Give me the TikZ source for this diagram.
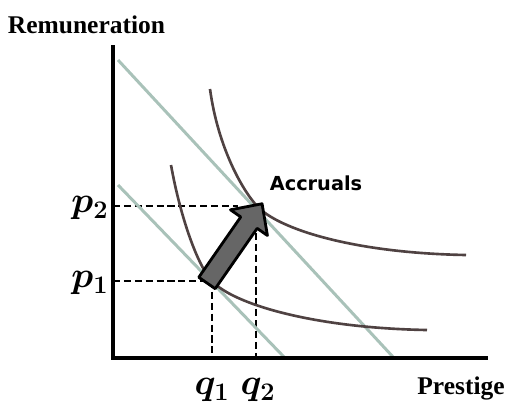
\documentclass[tikz,border=0pt]{standalone}
\usepackage{fontspec}
\newfontfamily\axisfont{Liberation Serif}
\newfontfamily\notefont{DejaVu Sans}
\definecolor{budgetgreen}{HTML}{A9C2B9}
\definecolor{curvebrown}{HTML}{4F4242}
\definecolor{arrowgray}{HTML}{666666}

\begin{document}
\begin{tikzpicture}[
    budget/.style={draw=budgetgreen, line width=1.7pt},
    indiff/.style={draw=curvebrown, line width=1.5pt},
    guide/.style={line width=1.2pt, dash pattern=on 4pt off 2.2pt},
    axislabel/.style={font=\axisfont\bfseries\fontsize{14.5}{17}\selectfont},
    pqlabel/.style={font=\fontsize{21}{24}\selectfont\boldmath}
]
    % Keep the margins of the picture
    \useasboundingbox (-2.26,-0.94) rectangle (7.94,7.16);

    % The two points of tangency
    \coordinate (A) at (1.98,1.54);
    \coordinate (B) at (2.88,3.04);

    % Dashed guide lines to the axes
    \draw[guide] (0,1.54) -- (1.8,1.54);
    \draw[guide] (0,3.04) -- (2.5,3.04);
    \draw[guide] (A) -- (1.98,0);
    \draw[guide] (2.86,2.5) -- (2.86,0);

    % Budget lines
    \draw[budget] (0.1,5.96) -- (5.62,0);
    \draw[budget] (0.1,3.46) -- (3.44,0);

    % Indifference curves
    \draw[indiff] (1.94,5.38) .. controls (2.1,4.2) and (2.6,3.34) .. (B)
        .. controls (3.3,2.58) and (4.8,2.1) .. (7.06,2.06);
    \draw[indiff] (1.16,3.86) .. controls (1.35,2.8) and (1.7,1.83) .. (A)
        .. controls (2.4,1.08) and (4.0,0.6) .. (6.28,0.56);

    % Axes
    \draw[line width=1.8pt] (0,6.26) -- (0,0) -- (7.5,0);

    % The shift from A to B
    \begin{scope}[shift={(1.88,1.5)}, rotate=55.2]
        \draw[fill=arrowgray, line width=1.6pt, line join=round]
            (0,-0.2) -- (1.47,-0.2) -- (1.47,-0.45) -- (1.93,0)
            -- (1.47,0.45) -- (1.47,0.2) -- (0,0.2) -- cycle;
    \end{scope}

    % Labels
    \node[axislabel] (remun) at (-0.53,6.66) {Remuneration};
    \node[axislabel] (prestige) at (6.96,-0.6) {Prestige};
    \node[font=\notefont\bfseries\fontsize{11}{13}\selectfont] (accruals) at (4.06,3.5) {Accruals};
    \node[pqlabel] (p2) at (-0.46,3.0) {$p_2$};
    \node[pqlabel] (p1) at (-0.46,1.5) {$p_1$};
    \node[pqlabel] (q1) at (1.98,-0.64) {$q_1$};
    \node[pqlabel] (q2) at (2.9,-0.64) {$q_2$};
\end{tikzpicture}
\end{document}
